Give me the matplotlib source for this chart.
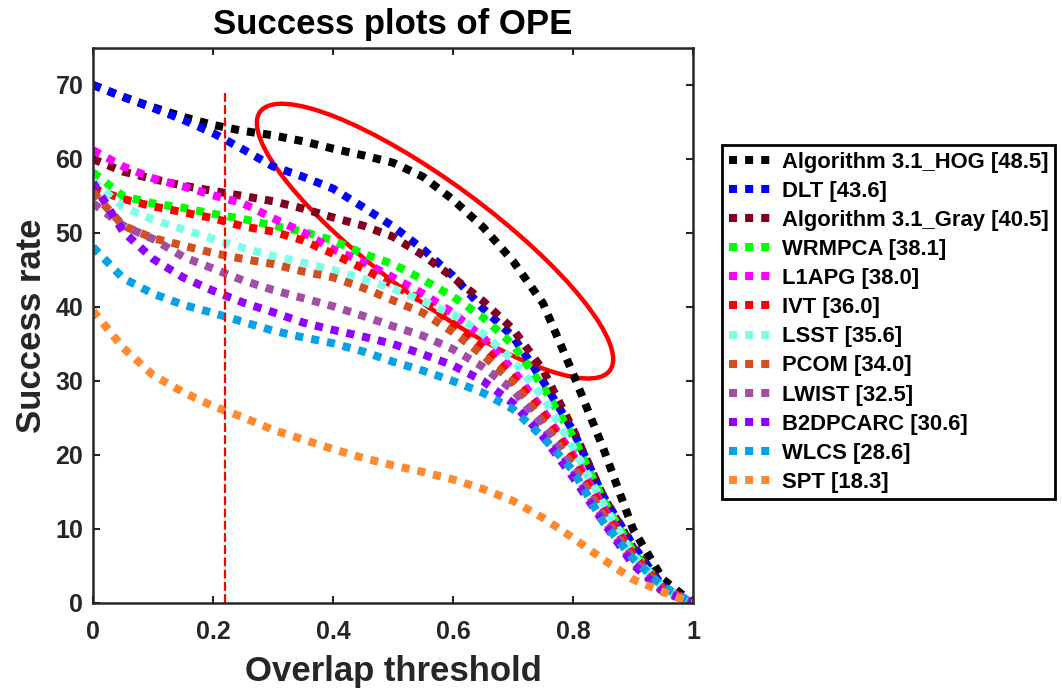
import matplotlib
matplotlib.use("Agg")
import matplotlib.pyplot as plt
from matplotlib.patches import Ellipse
from matplotlib.transforms import ScaledTranslation
import numpy as np

plt.rcParams['font.family'] = ['Liberation Sans', 'DejaVu Sans']
plt.rcParams['font.weight'] = 'bold'

# overlap thresholds, step 0.05
thresholds = np.round(np.arange(0, 1.0001, 0.05), 2)

hog = [70.0, 68.4, 67.0, 65.7, 64.6, 63.8, 63.2, 62.4, 61.4, 60.5, 59.5,
       57.6, 54.5, 50.8, 46.2, 40.5, 31.0, 21.0, 10.0, 3.2, 0.0]
dlt = [70.0, 68.4, 66.9, 65.3, 63.5, 61.3, 59.0, 57.6, 56.0, 53.5, 50.9,
       47.8, 44.2, 39.8, 36.0, 30.0, 23.3, 14.5, 7.8, 2.2, 0.0]
gray = [60.0, 58.3, 57.3, 56.4, 55.7, 55.0, 54.3, 53.3, 52.1, 51.0, 49.5,
        47.0, 44.0, 40.8, 37.0, 31.5, 23.5, 14.5, 7.5, 2.0, 0.0]
wrmpca = [58.2, 55.0, 54.0, 53.4, 52.6, 51.9, 51.0, 50.2, 49.0, 47.2, 45.8,
          43.7, 41.4, 38.6, 34.9, 29.2, 22.5, 14.0, 7.0, 2.0, 0.0]
l1apg = [61.2, 59.0, 57.4, 56.3, 55.1, 54.0, 52.0, 50.1, 47.8, 46.1, 44.0,
         41.8, 39.2, 35.9, 31.5, 26.0, 20.0, 13.0, 6.5, 2.0, 0.0]
ivt = [56.0, 54.6, 53.6, 52.8, 52.0, 50.9, 50.2, 49.0, 47.2, 45.2, 43.0,
       40.8, 37.8, 34.5, 30.5, 25.5, 19.5, 12.5, 6.3, 2.0, 0.0]
lsst = [57.0, 53.5, 51.8, 50.5, 49.2, 48.0, 46.9, 46.0, 45.0, 43.8, 42.5,
        40.8, 39.0, 36.4, 32.8, 27.8, 21.0, 13.5, 6.5, 2.0, 0.0]
pcom = [55.5, 51.0, 49.3, 48.3, 47.3, 46.5, 45.8, 44.8, 44.0, 42.6, 40.9,
        39.2, 36.6, 33.5, 29.8, 24.5, 18.5, 12.0, 6.0, 1.8, 0.0]
lwist = [54.0, 51.0, 49.2, 46.8, 45.2, 43.6, 42.3, 41.2, 40.1, 38.8, 37.4,
         36.1, 34.3, 31.9, 28.8, 24.0, 18.0, 11.5, 5.5, 1.6, 0.0]
b2dpcarc = [56.8, 50.2, 46.5, 44.0, 42.2, 40.6, 39.3, 37.9, 36.9, 36.0, 35.0,
            33.6, 32.1, 30.0, 27.0, 22.5, 17.0, 11.0, 5.2, 1.5, 0.0]
wlcs = [48.1, 43.9, 41.8, 40.3, 39.2, 38.0, 36.8, 35.9, 35.1, 34.0, 32.6,
        31.4, 30.0, 28.4, 26.2, 22.4, 17.9, 11.0, 6.0, 2.2, 0.0]
spt = [39.5, 34.5, 30.8, 28.5, 26.6, 25.1, 23.4, 22.1, 20.8, 19.6, 18.6,
       17.7, 16.7, 15.4, 13.8, 11.5, 8.8, 5.9, 3.2, 1.5, 0.0]

names = ['Algorithm 3.1_HOG', 'DLT', 'Algorithm 3.1_Gray', 'WRMPCA', 'L1APG',
         'IVT', 'LSST', 'PCOM', 'LWIST', 'B2DPCARC', 'WLCS', 'SPT']
auc = [48.5, 43.6, 40.5, 38.1, 38.0, 36.0, 35.6, 34.0, 32.5, 30.6, 28.6, 18.3]
curves = [hog, dlt, gray, wrmpca, l1apg, ivt, lsst, pcom, lwist, b2dpcarc,
          wlcs, spt]
colors = ['#000000', '#0000FF', '#7F0020', '#00FF00', '#FF00FF', '#FF0000',
          '#80FFE8', '#D2501E', '#A24EA5', '#9000FF', '#08A2E4', '#FF8A30']

marker_x = 0.22
marker_top = 69.3

fig = plt.figure(figsize=(10.62, 6.95), dpi=100)
ax = fig.add_axes([93 / 1062, 92 / 695, 600 / 1062, 555 / 695])

for name, score, y, c in zip(names, auc, curves, colors):
    ax.plot(thresholds, y, color=c, lw=5.8, linestyle=(0, (1, 1)),
            dash_capstyle='butt', label=f'{name} [{score}]')

ax.plot([marker_x, marker_x], [0, marker_top], color='red', lw=1.6,
        linestyle=(0, (4, 1.5)))

# highlight ring, sized in inches and centred in data space
ring = Ellipse((0, 0), 4.35, 1.15, angle=-36.5, fill=False, ec='red', lw=3.2,
               transform=fig.dpi_scale_trans + ScaledTranslation(0.57, 48.9, ax.transData))
ax.add_patch(ring)

ax.set_xlim(0, 1)
ax.set_ylim(0, 75)
ax.set_xticks([0, 0.2, 0.4, 0.6, 0.8, 1])
ax.set_xticklabels(['0', '0.2', '0.4', '0.6', '0.8', '1'])
ax.set_yticks(range(0, 71, 10))

dark = '#262626'
for s in ax.spines.values():
    s.set_linewidth(1.8)
    s.set_color(dark)
ax.tick_params(direction='in', top=True, right=True, length=5, width=1.5,
               colors=dark, labelsize=18)
ax.tick_params(axis='x', pad=12)
ax.tick_params(axis='y', pad=7)

ax.set_title('Success plots of OPE', fontsize=25, fontweight='bold', pad=10)
ax.set_xlabel('Overlap threshold', fontsize=25, fontweight='bold', color=dark, labelpad=8)
ax.set_ylabel('Success rate', fontsize=25, fontweight='bold', color=dark, labelpad=5)

leg = ax.legend(loc='upper left', bbox_to_anchor=(722 / 1062, 1 - 145 / 695),
                bbox_transform=fig.transFigure, borderaxespad=0, fontsize=15.8,
                handlelength=2.1, handletextpad=0.32, labelspacing=0.37,
                borderpad=0.3, fancybox=False, framealpha=1)
leg.get_frame().set_edgecolor('black')
leg.get_frame().set_linewidth(2)

fig.savefig('out.png', dpi=100)
